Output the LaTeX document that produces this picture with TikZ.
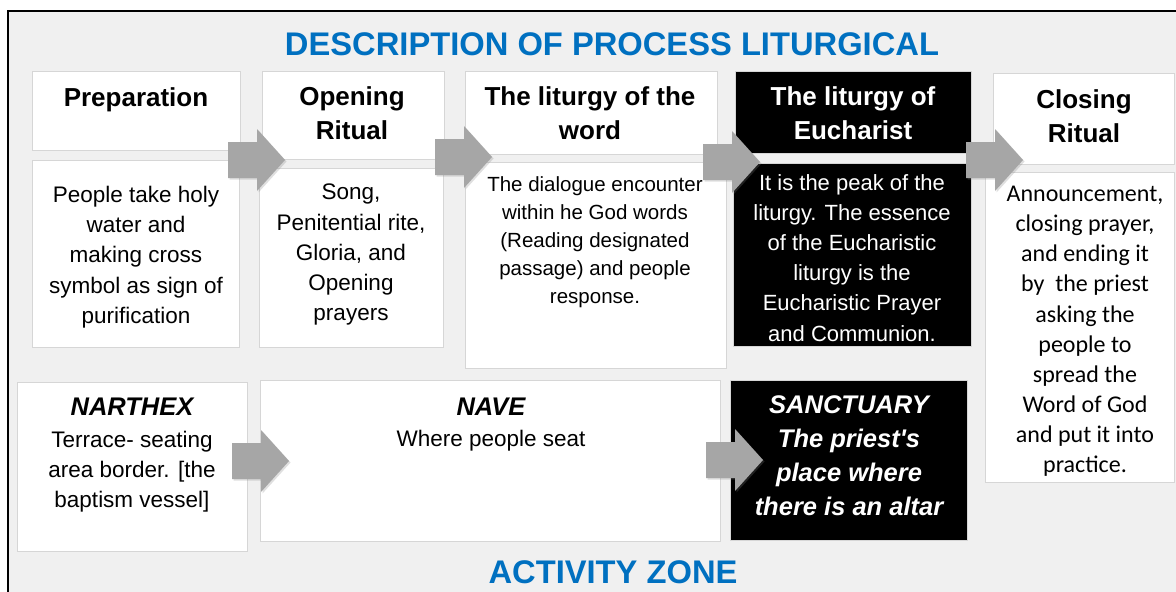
\documentclass[tikz,border=0pt]{standalone}
\usepackage{fontspec}
\setmainfont{Liberation Sans}
\newfontfamily\calibfont{Carlito}
\usetikzlibrary{shadows}
\definecolor{bluetitle}{HTML}{0070C0}
\definecolor{panelbg}{HTML}{F0F0F0}
\definecolor{boxline}{HTML}{D6D6D6}
\definecolor{arrowgray}{HTML}{A6A6A6}
\begin{document}
\begin{tikzpicture}[x=1pt,y=-1pt,
  box/.style={draw=boxline, line width=1.3pt, fill=white, anchor=north west, inner sep=0pt},
  darkbox/.style={box, fill=black},
  hdr/.style={font=\bfseries\fontsize{26}{34}\selectfont, align=center, inner sep=0pt},
  body/.style={font=\fontsize{22.5}{30.2}\selectfont, align=center, inner sep=0pt},
  zone/.style={font=\bfseries\itshape\fontsize{25.5}{34}\selectfont, align=center, inner sep=0pt},
  title/.style={font=\bfseries\fontsize{32.7}{36}\selectfont, text=bluetitle, inner sep=0pt, anchor=base},
  flow/.style={fill=arrowgray, drop shadow={opacity=0.25, shadow xshift=1.5pt, shadow yshift=-1.5pt}}
]
\useasboundingbox (0,0) rectangle (1176,592);
\clip (0,0) rectangle (1176,592);
% page and frame
\fill[white] (0,0) rectangle (1176,592);
\draw[fill=panelbg, line width=1.2pt] (8,11) rectangle (1190,610);

% titles
\node[title] (ttop) at (612,55) {DESCRIPTION OF PROCESS LITURGICAL};
\node[title] (tbot) at (613,583) {ACTIVITY ZONE};

% stage headers
\node[box, minimum width=208, minimum height=79] (prepH) at (32,71) {};
\node[box, minimum width=182, minimum height=88] (openH) at (262,71) {};
\node[box, minimum width=252, minimum height=83] (wordH) at (465,71) {};
\node[darkbox, minimum width=236, minimum height=82] (euchH) at (735,71) {};
\node[box, minimum width=181, minimum height=91] (closH) at (993,73) {};

% stage descriptions
\node[box, minimum width=207, minimum height=187] (prepB) at (32,160) {};
\node[box, minimum width=184, minimum height=179] (openB) at (259,168) {};
\node[box, minimum width=261, minimum height=206] (wordB) at (465,162) {};
\node[darkbox, minimum width=238, minimum height=183] (euchB) at (733,163) {};
\node[box, minimum width=189, minimum height=310] (closB) at (985,172) {};

% zones
\node[box, minimum width=230, minimum height=169] (narB) at (17,382) {};
\node[box, minimum width=460, minimum height=161] (navB) at (260,380) {};
\node[darkbox, minimum width=237, minimum height=160] (sanB) at (730,380) {};

% header texts
\node[hdr, anchor=base] (prepHt) at (136,106) {Preparation};
\node[hdr, anchor=north] (openHt) at (352,86) {Opening\\Ritual};
\node[hdr, anchor=north] (wordHt) at (590,86) {The liturgy of the\\word};
\node[hdr, anchor=north, text=white] (euchHt) at (853,86) {The liturgy of\\Eucharist};
\node[hdr, anchor=north] (closHt) at (1084,89) {Closing\\Ritual};

% description texts
\node[body, anchor=north] (prepBt) at (136,186)
  {People take holy\\water and\\making cross\\symbol as sign of\\purification};
\node[body, anchor=north] (openBt) at (351,184)
  {Song,\\Penitential rite,\\Gloria, and\\Opening\\prayers};
\node[body, anchor=north, font=\fontsize{20.5}{28}\selectfont] (wordBt) at (595,176)
  {The dialogue encounter\\within he God words\\(Reading designated\\passage) and people\\response.};
\node[body, anchor=north, text=white, font=\fontsize{22}{30.2}\selectfont] (euchBt) at (852,174)
  {It is the peak of the\\liturgy. The essence\\of the Eucharistic\\liturgy is the\\Eucharistic Prayer\\and Communion.};
\node[body, anchor=north, font=\calibfont\fontsize{24}{30.1}\selectfont] (closBt) at (1085,186)
  {Announcement,\\closing prayer,\\and ending it\\by~ the priest\\asking the\\people to\\spread the\\Word of God\\and put it into\\practice.};

% zone texts
\node[zone, anchor=base] (narT) at (132,415) {NARTHEX};
\node[body, anchor=north] (narBt) at (132,431) {Terrace- seating\\area border. [the\\baptism vessel]};
\node[zone, anchor=base] (navT) at (491,415) {NAVE};
\node[body, anchor=base] (navBt) at (491,446) {Where people seat};
\node[zone, anchor=north, text=white] (sanT) at (849,395)
  {SANCTUARY\\The priest\textquotesingle s\\place where\\there is an altar};

% block arrows between stages and zones
\newcommand\flowarrow[2]{%
  \fill[flow] (#1,#2) ++(0,-18) -- ++(29,0) -- ++(0,-13) -- ++(28,31)
    -- ++(-28,31) -- ++(0,-13) -- ++(-29,0) -- cycle;}
\flowarrow{228}{160}
\flowarrow{435}{157}
\flowarrow{703}{162}
\flowarrow{966}{160}
\flowarrow{232}{461}
\flowarrow{706}{460}
\end{tikzpicture}
\end{document}
